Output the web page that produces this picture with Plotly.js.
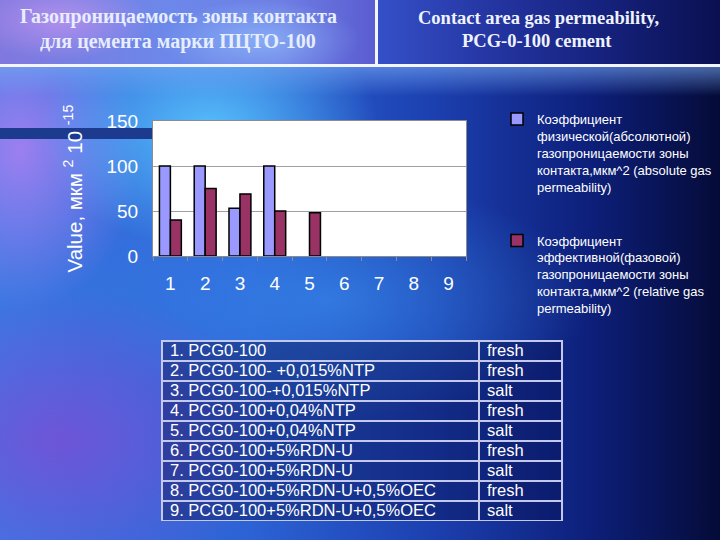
<!DOCTYPE html>
<html>
<head>
<meta charset="utf-8">
<script src="https://cdn.plot.ly/plotly-3.0.1.min.js"></script>
<style>
  html, body { margin: 0; padding: 0; background: #0a1450; }
  #wrap { position: relative; width: 720px; height: 540px; overflow: hidden; }
  #bg { position: absolute; left: 0; top: 0; width: 720px; height: 540px;
    background:
      radial-gradient(ellipse 170px 120px at 210px 130px, rgba(90,200,255,0.9), rgba(90,200,255,0) 100%),
      radial-gradient(ellipse 120px 160px at 20px 150px, rgba(190,130,245,0.75), rgba(190,130,245,0) 100%),
      radial-gradient(ellipse 220px 150px at 60px 440px, rgba(120,80,215,0.85), rgba(120,80,215,0) 100%),
      radial-gradient(ellipse 260px 120px at 330px 300px, rgba(60,150,245,0.55), rgba(60,150,245,0) 100%),
      linear-gradient(90deg, #3a78e2 0%, #2c62d4 35%, #1c40b0 60%, #0d1f7a 82%, #050b38 100%);
  }
  #hl { position: absolute; left: 0; top: 0; width: 377px; height: 64px;
    background:
      radial-gradient(ellipse 90px 40px at 60px 20px, rgba(200,150,240,0.7), rgba(200,150,240,0) 100%),
      radial-gradient(ellipse 100px 40px at 260px 40px, rgba(150,200,255,0.6), rgba(150,200,255,0) 100%),
      linear-gradient(90deg, #8078de 0%, #6c88ea 45%, #6e7ee4 75%, #5a5cd0 100%);
  }
  #hr { position: absolute; left: 377px; top: 0; width: 343px; height: 64px;
    background: linear-gradient(90deg, #3550c8 0%, #2434a0 35%, #16227e 65%, #0a1050 100%);
  }
  #band { position: absolute; left: 0; top: 66px; width: 720px; height: 30px;
    background: linear-gradient(180deg, rgba(120,170,245,0.6), rgba(120,170,245,0));
  }
  #chart { position: absolute; left: 0; top: 0; width: 720px; height: 540px; }
</style>
</head>
<body>
<div id="wrap">
  <div id="bg"></div>
  <div id="hl"></div>
  <div id="hr"></div>
  <div id="band"></div>
  <div id="chart"></div>
</div>
<script>
// ---- data ----
var categories = ["1", "2", "3", "4", "5", "6", "7", "8", "9"];
var absolutePerm = [100, 100, 53, 100, null, null, null, null, null];
var relativePerm = [40, 75, 69, 50, 48, null, null, null, null];
var absoluteName = "Коэффициент<br>физической(абсолютной)<br>газопроницаемости зоны<br>контакта,мкм^2 (absolute gas<br>permeability)";
var relativeName = "Коэффициент<br>эффективной(фазовой)<br>газопроницаемости зоны<br>контакта,мкм^2 (relative gas<br>permeability)";
var tableLabels = [
  "1. PCG0-100",
  "2. PCG0-100- +0,015%NTP",
  "3. PCG0-100-+0,015%NTP",
  "4. PCG0-100+0,04%NTP",
  "5. PCG0-100+0,04%NTP",
  "6. PCG0-100+5%RDN-U",
  "7. PCG0-100+5%RDN-U",
  "8. PCG0-100+5%RDN-U+0,5%OEC",
  "9. PCG0-100+5%RDN-U+0,5%OEC"
];
var tableWater = ["fresh", "fresh", "salt", "fresh", "salt", "fresh", "salt", "fresh", "salt"];
var yTicks = [0, 50, 100, 150];
var titleRu = ["Газопроницаемость зоны контакта", "для цемента марки ПЦТО-100"];
var titleEn = ["Contact area gas permeability,", "PCG-0-100 cement"];
var yTitle = "Value, мкм <sup>2</sup> 10 <sup>-15</sup>";

// ---- traces ----
var W = 720, H = 540;
var fontSans = "Arial, 'Liberation Sans', sans-serif";
var fontSerif = "'Times New Roman', 'Liberation Serif', serif";

// table geometry (pixels from top-left)
var tblTop = 341, tblBottom = 522, tblLeft = 162, tblRight = 562, textLift = 5;

function blankCol(arr) { return arr.map(function () { return ""; }); }

var gridStyle = {
  height: 20,
  align: "left",
  font: { family: fontSans, size: 16.5, color: "#ffffff" },
  fill: { color: "rgba(8,16,80,0.42)" },
  line: { color: "#c4c8ea", width: 1.5 }
};
var textStyle = {
  height: 20,
  align: "left",
  font: { family: fontSans, size: 16.5, color: "#ffffff" },
  fill: { color: "rgba(0,0,0,0)" },
  line: { color: "rgba(0,0,0,0)", width: 0 }
};

var traces = [
  {
    type: "bar", x: categories, y: absolutePerm, name: absoluteName,
    legendgroup: "a",
    marker: { color: "#9999FF", line: { color: "#000000", width: 1.5 } },
    hoverinfo: "x+y"
  },
  {
    type: "bar", x: categories, y: relativePerm, name: relativeName,
    legendgroup: "b",
    marker: { color: "#993366", line: { color: "#000000", width: 1.5 } },
    hoverinfo: "x+y"
  },
  // table grid (cells + borders)
  {
    type: "table",
    domain: { x: [tblLeft / W, tblRight / W], y: [1 - tblBottom / H, 1 - tblTop / H] },
    columnwidth: [317, 83],
    header: Object.assign({ values: [[""], [""]] }, gridStyle),
    cells: Object.assign({ values: [blankCol(tableLabels.slice(1)), blankCol(tableWater.slice(1))] }, gridStyle)
  },
  // table text, lifted to sit centred in the rows (extra room at the bottom so nothing is clipped)
  {
    type: "table",
    domain: { x: [tblLeft / W, tblRight / W], y: [1 - (tblBottom + 4) / H, 1 - (tblTop - textLift) / H] },
    columnwidth: [317, 83],
    header: Object.assign({ values: [[tableLabels[0]], [tableWater[0]]] }, textStyle),
    cells: Object.assign({ values: [tableLabels.slice(1), tableWater.slice(1)] }, textStyle)
  }
];

var layout = {
  width: W, height: H,
  margin: { l: 0, r: 0, t: 0, b: 0, autoexpand: false },
  paper_bgcolor: "rgba(0,0,0,0)",
  plot_bgcolor: "#ffffff",
  barmode: "group",
  bargap: 0.37,
  bargroupgap: 0,
  showlegend: true,
  legend: {
    xref: "container", yref: "container",
    x: 497 / W, y: 1 - 104 / H, xanchor: "left", yanchor: "top",
    bgcolor: "rgba(0,0,0,0)",
    font: { family: fontSans, size: 13, color: "#ffffff" },
    valign: "top",
    tracegroupgap: 34,
    itemwidth: 30
  },
  xaxis: {
    domain: [153 / W, 466 / W],
    type: "category",
    tickson: "boundaries",
    ticks: "outside", ticklen: 4, tickcolor: "#8a8aa0",
    showline: true, linecolor: "#8c8c8c", linewidth: 1, mirror: true,
    showgrid: false, zeroline: false,
    ticklabelstandoff: 10,
    tickfont: { family: fontSans, size: 19, color: "#ffffff" }
  },
  yaxis: {
    domain: [1 - 256 / H, 1 - 121 / H],
    range: [0, 150],
    tickvals: yTicks,
    ticktext: yTicks.map(String),
    showline: true, linecolor: "#8c8c8c", linewidth: 1, mirror: true,
    showgrid: true, gridcolor: "#a0a0a0", gridwidth: 1,
    zeroline: false,
    ticks: "",
    ticklabelstandoff: 10,
    tickfont: { family: fontSans, size: 19, color: "#ffffff" },
    title: { text: yTitle, standoff: 18, font: { family: fontSans, size: 20.5, color: "#ffffff" } }
  },
  shapes: [
    { type: "rect", xref: "paper", yref: "paper", layer: "below",
      x0: 0, x1: 153 / W, y0: 1 - 139 / H, y1: 1 - 128 / H,
      fillcolor: "#1c3a8e", line: { width: 0 } },
    { type: "line", xref: "paper", yref: "paper", layer: "above",
      x0: 0, x1: 1, y0: 1 - 65.5 / H, y1: 1 - 65.5 / H,
      line: { color: "#f4f6ff", width: 3 } },
    { type: "line", xref: "paper", yref: "paper", layer: "above",
      x0: 376.5 / W, x1: 376.5 / W, y0: 1 - 65 / H, y1: 1,
      line: { color: "#f4f6ff", width: 3 } }
  ],
  annotations: [
    { xref: "paper", yref: "paper", x: 178 / W, y: 1 - 17 / H, text: "<b>" + titleRu[0] + "</b>",
      showarrow: false, xanchor: "center", yanchor: "middle",
      font: { family: fontSerif, size: 20, color: "#e6eeff" } },
    { xref: "paper", yref: "paper", x: 178 / W, y: 1 - 41 / H, text: "<b>" + titleRu[1] + "</b>",
      showarrow: false, xanchor: "center", yanchor: "middle",
      font: { family: fontSerif, size: 20, color: "#e6eeff" } },
    { xref: "paper", yref: "paper", x: 538 / W, y: 1 - 18 / H, text: "<b>" + titleEn[0] + "</b>",
      showarrow: false, xanchor: "center", yanchor: "middle",
      font: { family: fontSerif, size: 18.5, color: "#eef3ff" } },
    { xref: "paper", yref: "paper", x: 537 / W, y: 1 - 41 / H, text: "<b>" + titleEn[1] + "</b>",
      showarrow: false, xanchor: "center", yanchor: "middle",
      font: { family: fontSerif, size: 18.5, color: "#eef3ff" } }
  ]
};

Plotly.newPlot("chart", traces, layout, { displayModeBar: false, staticPlot: true });
</script>
</body>
</html>
